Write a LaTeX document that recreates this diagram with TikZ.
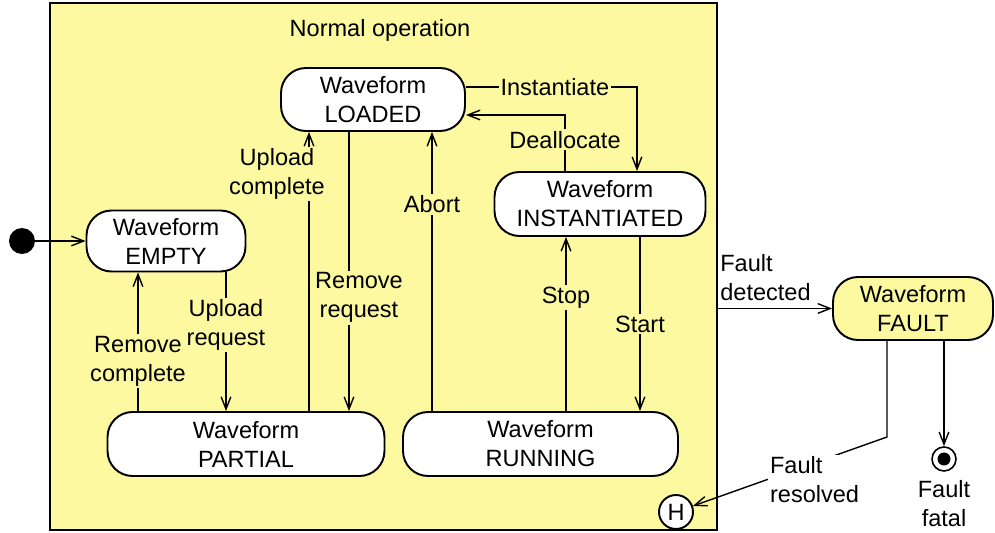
\documentclass[tikz,border=0pt]{standalone}
\usepackage{fontspec}
\setmainfont{Liberation Sans}
\usetikzlibrary{arrows.meta}
\definecolor{opyellow}{RGB}{252,249,160}
\newcommand{\dgfont}{\fontsize{13.4}{16.5}\selectfont}

\begin{document}
\begin{tikzpicture}[x=0.02cm,y=-0.02cm,font=\dgfont,
	state/.style={draw,line width=1.1pt,rounded corners=0.5cm,fill=white,align=center,inner sep=0pt},
	lbl/.style={fill=opyellow,align=center,inner sep=1pt},
	arr/.style={-{Straight Barb[length=7pt,width=5.5pt]},line width=0.8pt}]
	\useasboundingbox (0,0) rectangle (995,533);
	% normal operation
	\node[draw,line width=1.1pt,fill=opyellow,minimum width=13.34cm,minimum height=10.54cm] (normal) at (383.5,266.5) {};
	\node[anchor=center] (title) at (380,30) {Normal operation};
	% states
	\node[state,minimum width=3.68cm,minimum height=1.26cm] (loaded) at (373,99.5) {Waveform\\LOADED};
	\node[state,minimum width=3.18cm,minimum height=1.22cm] (empty) at (166,241) {Waveform\\EMPTY};
	\node[state,minimum width=4.22cm,minimum height=1.28cm] (inst) at (600,204) {Waveform\\INSTANTIATED};
	\node[state,minimum width=5.54cm,minimum height=1.28cm] (partial) at (246,444) {Waveform\\PARTIAL};
	\node[state,minimum width=5.50cm,minimum height=1.28cm] (running) at (540.5,444) {Waveform\\RUNNING};
	\node[state,fill=opyellow,minimum width=3.20cm,minimum height=1.26cm] (fault) at (913,308.5) {Waveform\\FAULT};
	\node[circle,fill=black,minimum size=0.52cm,inner sep=0pt] (init) at (22,241) {};
	\node[circle,draw,line width=1.1pt,fill=white,minimum size=0.68cm,inner sep=0pt] (hist) at (676,512) {H};
	\node[circle,draw,line width=0.9pt,fill=white,minimum size=0.48cm,inner sep=0pt] (final) at (944,459) {};
	\node[circle,fill=black,minimum size=0.26cm,inner sep=0pt] (finaldot) at (944,459) {};
	\node[anchor=center,align=center] (fatal) at (944,504) {Fault\\fatal};
	% transitions
	\draw[arr] (init) -- (empty);
	\draw[arr] (empty.south -| 226,0) -- node[lbl,pos=0.38]{Upload\\request} (partial.north -| 226,0);
	\draw[arr] (partial.north -| 138,0) -- node[lbl,pos=0.36]{Remove\\complete} (empty.south -| 138,0);
	\draw[arr] (partial.north -| 309,0) -- (loaded.south -| 309,0);
	\node[lbl] (upl) at (277,174) {Upload\\complete};
	\draw[arr] (loaded.south -| 349,0) -- node[lbl,pos=0.58,xshift=0.2cm,yshift=-0.08cm]{Remove\\request} (partial.north -| 349,0);
	\draw[arr] (running.north -| 432,0) -- node[lbl,pos=0.74]{Abort} (loaded.south -| 432,0);
	\draw[arr] (loaded.east |- 0,87) -| node[lbl,pos=0.26]{Instantiate} (inst.north -| 637,0);
	\draw[arr] (inst.north -| 565,0) |- node[lbl,pos=0.28]{Deallocate} (loaded.east |- 0,115);
	\draw[arr] (inst.south -| 640,0) -- node[lbl,pos=0.5]{Start} (running.north -| 640,0);
	\draw[arr] (running.north -| 566,0) -- node[lbl,pos=0.65]{Stop} (inst.south -| 566,0);
	\draw[arr] (normal.east |- fault.west) -- (fault.west);
	\node[anchor=south west,align=left,inner sep=0pt] (det) at (720,301) {Fault\\detected};
	\coordinate (bend) at (887,437);
	\draw[arr] (fault.south -| bend) -- (bend) -- (hist);
	\node[anchor=west,align=left,fill=white,inner sep=1pt] (res) at (768,480) {Fault\\resolved};
	\draw[arr] (fault.south -| final) -- (final);
\end{tikzpicture}
\end{document}
